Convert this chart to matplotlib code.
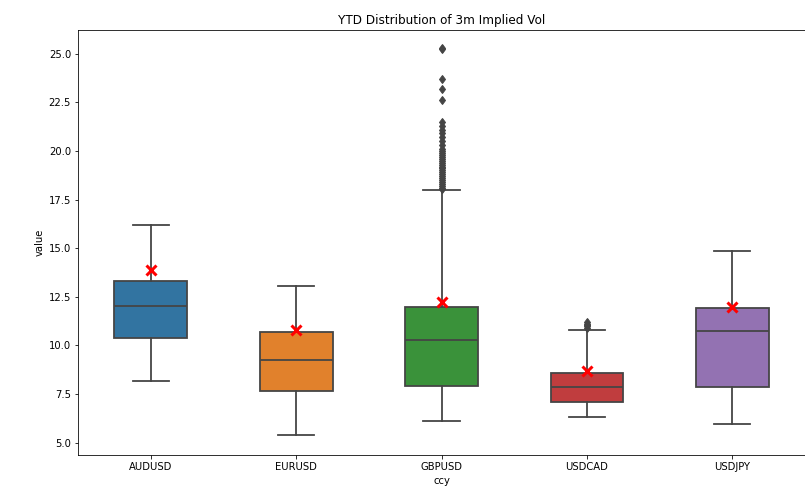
import matplotlib
matplotlib.use('Agg')
import matplotlib.pyplot as plt

# Values (3m implied vol, YTD)
ccys = ['AUDUSD', 'EURUSD', 'GBPUSD', 'USDCAD', 'USDJPY']
whis_lo = [8.2, 5.4, 6.1, 6.3, 5.95]
q1s = [10.4, 7.67, 7.93, 7.12, 7.89]
medians = [12.05, 9.27, 10.26, 7.86, 10.76]
q3s = [13.3, 10.67, 11.96, 8.61, 11.95]
whis_hi = [16.2, 13.04, 17.97, 10.81, 14.84]
means = [13.9, 10.81, 12.26, 8.67, 11.96]  # red crosses

gbp_fliers = [18.05, 18.1, 18.2, 18.3, 18.4, 18.5, 18.6, 18.7, 18.8, 18.9,
              19.0, 19.1, 19.2, 19.3, 19.4, 19.5, 19.6, 19.7, 19.8, 19.9,
              20.0, 20.1, 20.3, 20.5, 20.7, 20.9, 21.1, 21.3, 21.5,
              22.6, 23.2, 23.7, 25.22, 25.3]
cad_fliers = [10.9, 11.0, 11.05, 11.1, 11.2]
fliers = [[], [], gbp_fliers, cad_fliers, []]

colors = ['#3274a1', '#e1812c', '#3a923a', '#c03d3e', '#9372b2']
gray = '#454545'

fig = plt.figure(figsize=(805 / 72, 496 / 72), dpi=72)
ax = fig.add_axes([0.097, 0.083, 0.903, 0.857])

stats = []
for i, name in enumerate(ccys):
    stats.append(dict(label=name, whislo=whis_lo[i], q1=q1s[i], med=medians[i],
                      q3=q3s[i], whishi=whis_hi[i], fliers=fliers[i]))

pos = list(range(len(ccys)))
bp = ax.bxp(stats, positions=pos, widths=0.5, patch_artist=True,
            boxprops=dict(edgecolor=gray, linewidth=1.8),
            medianprops=dict(color=gray, linewidth=1.8),
            whiskerprops=dict(color=gray, linewidth=1.8),
            capprops=dict(color=gray, linewidth=1.8),
            flierprops=dict(marker='d', markerfacecolor=gray, markeredgecolor=gray,
                            markersize=6, linestyle='none'))
for patch, c in zip(bp['boxes'], colors):
    patch.set_facecolor(c)

ax.plot(pos, means, linestyle='', marker='x', color='red', markersize=10,
        markeredgewidth=3, zorder=5)

ax.set_xlim(-0.5, 4.5)
ax.set_ylim(4.38, 26.23)
ax.set_xticks(pos)
ax.set_xticklabels(ccys)
ax.set_xlabel('ccy')
ax.set_ylabel('value')
ax.set_title('YTD Distribution of 3m Implied Vol', fontsize=12)

fig.savefig('out.png', dpi=72)
